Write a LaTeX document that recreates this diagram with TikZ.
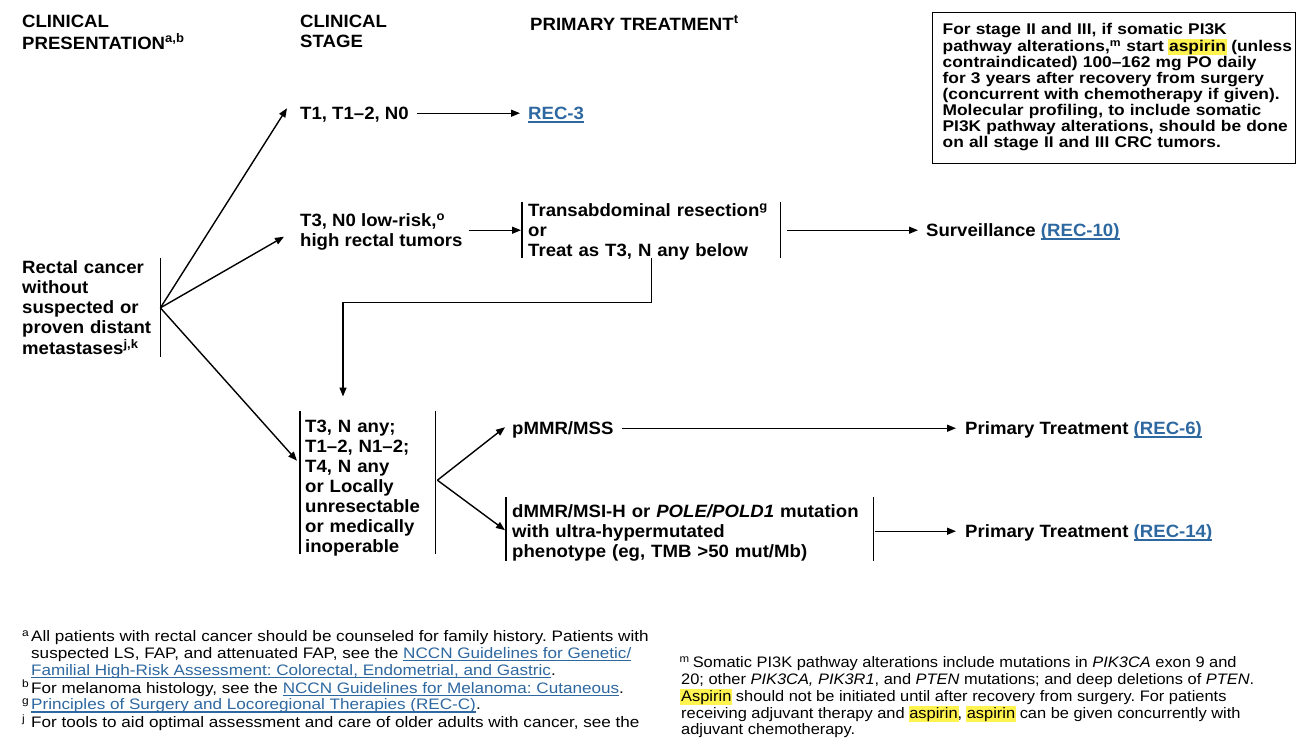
\documentclass[tikz,border=0pt]{standalone}
\usepackage{fontspec}
\setmainfont{Liberation Sans}
\newfontfamily\mainf{Liberation Sans}[Ligatures=TeX,FakeStretch=1.045]
\newfontfamily\boxf{Liberation Sans}[Ligatures=TeX,FakeStretch=1.12]
\newfontfamily\fnlf{Liberation Sans}[Ligatures=TeX,FakeStretch=1.125]
\newfontfamily\fnrf{Liberation Sans}[Ligatures=TeX,FakeStretch=1.08]
\usetikzlibrary{arrows.meta}
\definecolor{lnk}{RGB}{46,104,160}
\definecolor{hly}{RGB}{255,243,80}
\frenchspacing
% underlined link text
\newcommand\lnk[1]{{\color{lnk}\setbox0\hbox{#1}\rlap{\rule[-0.17em]{\wd0}{0.075em}}\box0}}
% highlighted word
\newcommand\hlt[1]{{\setlength\fboxsep{0.8pt}\kern-0.8pt\colorbox{hly}{#1}\kern-0.8pt}}
% stacked lines
\newcommand\lines[1]{\begin{tabular}{@{}l@{}}#1\end{tabular}}
\begin{document}
\begin{tikzpicture}[x=1pt,y=-1pt,
  txt/.style={anchor=north west,inner sep=0pt,font=\mainf\fontsize{17.8}{20}\selectfont\bfseries},
  brk/.style={txt,inner ysep=0pt},
  boxtxt/.style={draw,line width=1.3pt,anchor=north west,inner xsep=10pt,inner ysep=10.6pt,
    text width=343pt,font=\boxf\fontsize{15.5}{16.1}\selectfont\bfseries},
  fnl/.style={anchor=north west,inner sep=0pt,font=\fnlf\fontsize{15.2}{16.8}\selectfont},
  fnr/.style={anchor=north west,inner sep=0pt,font=\fnrf\fontsize{15.2}{16.8}\selectfont},
  arr/.style={line width=1.4pt,-{Triangle[length=9pt,width=7pt]}},
  bar/.style={line width=1.5pt},
]
\useasboundingbox (0,0) rectangle (1305,740);
\clip (0,0) rectangle (1305,740);

% column headings
\node[txt] (hpres) at (22,13.5) {\lines{CLINICAL\\PRESENTATION\textsuperscript{a,b}}};
\node[txt] (hstage) at (300,13.5) {\lines{CLINICAL\\STAGE}};
\node[txt] (hprim) at (530,15.5) {\lines{PRIMARY TREATMENT\textsuperscript{t}}};

% aspirin note
\node[boxtxt] (note) at (932,12) {\lines{For stage II and III, if somatic PI3K\\
pathway alterations,\textsuperscript{m} start \hlt{aspirin} (unless\\
contraindicated) 100--162 mg PO daily\\
for 3 years after recovery from surgery\\
(concurrent with chemotherapy if given).\\
Molecular profiling, to include somatic\\
PI3K pathway alterations, should be done\\
on all stage II and III CRC tumors.}};

% presentation
\node[txt,text width=138pt] (pres) at (22,259.3) {\lines{Rectal cancer\\without\\suspected or\\proven distant\\metastases\textsuperscript{j,k}}};
\draw[bar] ([yshift=1.3pt]pres.north east) -- ([yshift=4.3pt]pres.south east);

% stages
\node[txt] (t1) at (300,105.3) {\lines{T1, T1--2, N0}};
\node[txt] (rec3) at (528,105.3) {\lines{\lnk{REC-3}}};
\node[txt] (t3n0) at (300,212.3) {\lines{T3, N0 low-risk,\textsuperscript{o}\\high rectal tumors}};

\node[brk,inner xsep=6pt,text width=246pt] (resect) at (522,202.3)
  {\lines{Transabdominal resection\textsuperscript{g}\\or\\Treat as T3, N any below}};
\draw[bar] ([yshift=0.3pt]resect.north west) -- ([yshift=4.3pt]resect.south west);
\draw[bar] ([yshift=0.3pt]resect.north east) -- ([yshift=4.3pt]resect.south east);
\node[txt] (surv) at (926,222.3) {\lines{Surveillance \lnk{(REC-10)}}};

\node[brk,inner xsep=5pt,text width=125pt] (stage3) at (300,418.5)
  {\lines{T3, N any;\\T1--2, N1--2;\\T4, N any\\or Locally\\unresectable\\or medically\\inoperable}};
\draw[bar] ([yshift=8pt]stage3.north west) -- ([yshift=5pt]stage3.south west);
\draw[bar] ([yshift=8pt]stage3.north east) -- ([yshift=5pt]stage3.south east);

\node[txt] (pmmr) at (512,420.3) {\lines{pMMR/MSS}};
\node[brk,inner xsep=6pt,text width=355pt] (dmmr) at (506,503.3)
  {\lines{dMMR/MSI-H or \textit{POLE/POLD1} mutation\\with ultra-hypermutated\\phenotype (eg, TMB {>}50 mut/Mb)}};
\draw[bar] ([yshift=6.3pt]dmmr.north west) -- ([yshift=2.3pt]dmmr.south west);
\draw[bar] ([yshift=6.3pt]dmmr.north east) -- ([yshift=2.3pt]dmmr.south east);

\node[txt] (ptx6) at (965,420.3) {\lines{Primary Treatment \lnk{(REC-6)}}};
\node[txt] (ptx14) at (965,523.3) {\lines{Primary Treatment \lnk{(REC-14)}}};

% connectors
\coordinate (split) at ([yshift=2.3pt]pres.east);
\draw[arr] (split) -- ([xshift=-13pt,yshift=7.3pt]t1.west);
\draw[arr] (split) -- ([xshift=-16pt,yshift=-4.2pt]t3n0.west);
\draw[arr] (split) -- ([xshift=-3pt,yshift=28pt]stage3.west);
\draw[arr] ([xshift=8pt,yshift=2.3pt]t1.east) -- ([xshift=-8pt,yshift=2.3pt]rec3.west);
\draw[arr] ([xshift=6pt,yshift=2.3pt]t3n0.east) -- ([xshift=-1pt,yshift=2.3pt]resect.west);
\draw[arr] ([xshift=7pt,yshift=2.3pt]resect.east) -- ([xshift=-8pt,yshift=2.3pt]surv.west);
\draw[arr] ([yshift=4.3pt]resect.south) -- ++(0,44) -| ([xshift=43pt,yshift=22pt]stage3.north west);

\coordinate (split2) at ([xshift=2pt,yshift=8.5pt]stage3.east);
\draw[arr] (split2) -- ([xshift=-7pt,yshift=3.3pt]pmmr.west);
\draw[arr] (split2) -- ([xshift=-1pt,yshift=3.3pt]dmmr.west);
\draw[arr] ([xshift=8pt,yshift=2.3pt]pmmr.east) -- ([xshift=-9pt,yshift=2.3pt]ptx6.west);
\draw[arr] ([xshift=2pt,yshift=2.3pt]dmmr.east) -- ([xshift=-9pt,yshift=2.3pt]ptx14.west);

% footnotes
\node[fnl] (fnleft) at (22,629.6) {\begin{tabular}{@{}p{9pt}@{}l@{}}
\textsuperscript{a} & All patients with rectal cancer should be counseled for family history. Patients with\\
 & suspected LS, FAP, and attenuated FAP, see the \lnk{NCCN Guidelines for Genetic/}\\
 & \lnk{Familial High-Risk Assessment: Colorectal, Endometrial, and Gastric}.\\
\textsuperscript{b} & For melanoma histology, see the \lnk{NCCN Guidelines for Melanoma: Cutaneous}.\\
\textsuperscript{g} & \lnk{Principles of Surgery and Locoregional Therapies (REC-C)}.\\
\textsuperscript{j} & For tools to aid optimal assessment and care of older adults with cancer, see the
\end{tabular}};
\node[fnr] (fnright) at (681,655.6) {\lines{\hspace*{-1.5pt}\textsuperscript{m}\hspace{3pt}Somatic PI3K pathway alterations include mutations in \textit{PIK3CA} exon 9 and\\
20; other \textit{PIK3CA, PIK3R1}, and \textit{PTEN} mutations; and deep deletions of \textit{PTEN}.\\
\hlt{Aspirin} should not be initiated until after recovery from surgery. For patients\\
receiving adjuvant therapy and \hlt{aspirin}, \hlt{aspirin} can be given concurrently with\\
adjuvant chemotherapy.}};
\end{tikzpicture}
\end{document}
